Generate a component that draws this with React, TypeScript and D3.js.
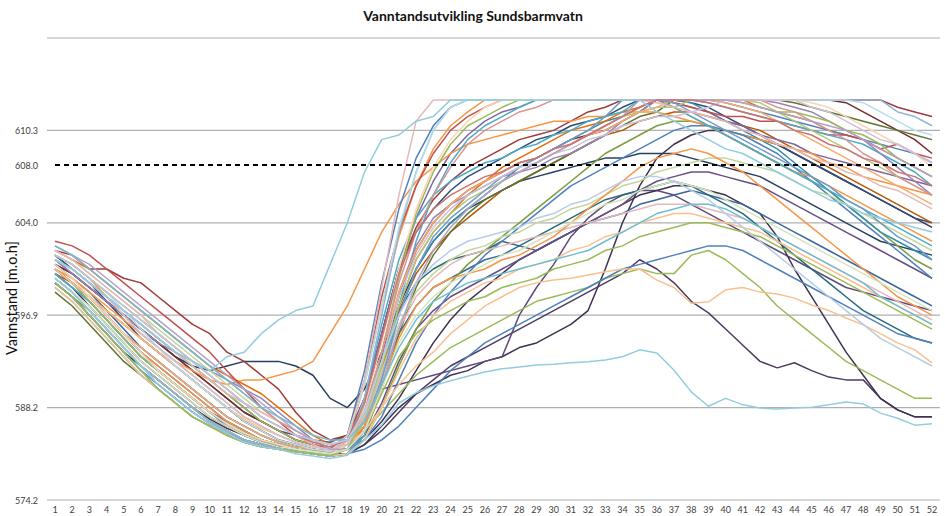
import React from 'react';
import * as d3 from 'd3';

// HRV cap (fill %) and axis/meta data
const C = 86.6;
const weeks = d3.range(1, 53);
const yTickValues = [0, 20, 40, 60, 80, 100];
const yTickLabels = ['574.2', '588.2', '596.9', '604.0', '610.3', ''];
const refLevelValue = 72.5;
const refLevelLabel = '608.0';
const title = 'Vanntandsutvikling  Sundsbarmvatn';
const yTitle = 'Vannstand [m.o.h]';

// Series (fill % of axis, weeks 1..52)
const h01 = [50,47,44,40,36,32,28,25,22,19,16,14,12.5,11.5,11,10.5,10, 14,28,47,63,74,81,85,C,C,C,C,C,C,C,C,C,C,C,C, C,C,C,86,85,84,83,82,81,80,79,78,77,76,75,73];
const h02 = [54,52,49,46,43,40,36,33,30,27,24,21,18,16,14,12,10.5, 13,26,46,66,82,C,C,C,C,C,C,C,C,C,C,C,C,C,86, 85,84,83,82,80,79,77,76,74,73,71,70,68,67,65,63];
const h03 = [48,45,41,37,33,29,26,23,20,17,15,13,12,11,10.5,10,9.5, 12,22,40,58,71,80,85,C,C,C,C,C,C,C,C,C,C,C,C, C,C,C,C,C,C,C,C,C,C,C,C,C,84,83,81];
const h04 = [56,55,53,50,47,44,41,38,35,32,28,24,20,17,14,12,11, 14,26,44,58,68,75,80,83,85,C,C,C,C,C,C,C,C,C,C, 86,85,84,83,83,82,82,81,80,79,79,78,76,77,75,74];
const h05 = [50,47,44,40,36,32,29,26,23,20,17,15,13,12,11,10.5,10, 13,25,42,57,68,76,81,84,C,C,C,C,C,C,C,C,C,C,C, 85,83,81,79,77,75,73,71,70,68,66,64,62,60,58,56];
const h06 = [47,44,40,36,32,28,24,21,18,16,14,12.5,11.5,11,10.5,10,9.5, 11,18,32,48,62,71,77,81,83,85,C,C,C,C,C,C,C,C,C, C,C,C,C,86,85,84,84,83,82,80,79,77,74,72,70];
const h07 = [53,51,48,45,41,37,33,29,26,23,20,17,15,13,12,11,10.5, 14,25,42,59,71,80,85,C,C,C,C,C,C,C,C,C,C,C,C, C,C,C,C,C,C,C,C,C,C,C,86,84,82,80,79];
const h08 = [49,46,43,39,35,31,28,25,22,19,17,15,13,12,11,10.5,10, 13,22,36,50,61,69,75,79,82,84,85,C,C,C,C,C,C,C,C, 86,85,84,82,81,79,78,77,75,74,73,72,71,70,69,68];
const h09 = [52,50,47,44,41,38,35,32,30,28,31,32,36,39,41,42,51, 60,71,78,79,82,83,C,C,C,C,C,C,C,C,C,C,C,C,84, 82,80,78,76,75,73,71,69,67,65,64,62,61,60,59,58];
const h10 = [51,48,44,40,36,32,28,25,22,19,16.5,14.5,13,12,11,10.5,10, 12,20,34,50,63,72,78,82,85,C,C,C,C,C,C,C,C,C,C, C,C,C,C,C,C,C,C,86,85,83,81,79,77,75,72];
const h11 = [55,53,50,47,44,41,38,35,32,29,26,23,20,17,15,13,12, 13,19,32,47,58,66,72,77,80,82,84,85,C,C,C,C,C,C,C, C,C,C,C,C,C,85,84,82,80,78,75,73,70,68,66];
const h12 = [46,43,39,35,31,27,24,21,18,16,14,12.5,11.5,11,10.5,10,9.5, 10,14,26,42,56,66,73,78,81,83,85,C,C,C,C,C,C,C,C, C,C,86,85,84,83,82,81,80,79,78,77,75,73,71,68];

const m01 = [53,50,47,43,39,35,32,29,26,23,20,17,15,13,12,11,10.5, 13,22,36,50,58,63,67,70,72,74,76,78,79,81,82,83,85,C,C, C,86,85,83,81,79,77,75,73,71,69,67,65,63,61,60];
const m02 = [50,47,44,40,36,33,30,27,24,21,18,16,14,12.5,11.5,11,10.5, 12,19,32,45,54,60,64,67,69,71,73,74,76,77,79,80,82,84,85, C,C,C,86,85,84,82,80,78,76,74,72,70,68,66,64];
const m03 = [54,53,50,50,48,47,44,41,38,36,32,30,27,24,19,15,13, 14,22,36,50,59,65,69,72,74,76,78,79,80,82,84,85,C,C,C, C,C,C,C,C,C,C,C,C,C,C,C,C,85,84,83];
const m04 = [48,45,41,37,33,29,26,23,20,17,15,13,12,11,10.5,10,9.5, 11,17,29,42,52,58,62,65,67,69,71,73,75,77,79,81,83,84,85, 85,C,C,C,C,86,84,82,80,78,76,74,72,70,68,66];
const m05 = [52,50,47,44,40,36,33,30,27,24,21,18,16,14,12.5,11.5,11, 12,18,30,44,53,59,63,66,68,70,72,73,75,76,78,79,81,82,83, 83,84,85,C,C,C,C,C,85,84,82,80,78,77,75,73];
const m06 = [49,46,43,39,35,31,28,25,22,19,16.5,14.5,13,12,11,10.5,10, 12,22,38,52,61,66,69,71,73,74,76,77,79,80,82,83,84,C,C, 85,83,81,79,77,75,73,71,69,67,65,63,61,59,57,55];
const m07 = [54,52,50,47,44,41,38,35,32,29,27,25,23,20,17,14,12, 11,16,28,42,52,58,62,66,69,72,74,76,78,80,81,82,84,85,C, C,C,C,C,C,85,84,83,82,80,79,78,76,74,72,70];
const m08 = [47,44,40,36,32,28,25,22,19,16.5,14.5,13,12,11,10.5,10,9.5, 10,15,26,40,50,57,61,64,67,70,72,74,76,78,80,83,C,C,C, 86,84,82,80,78,76,74,72,70,68,65,63,60,57,55,52];
const m09 = [51,49,46,43,40,37,34,31,28,25,22,19,17,15,13,12,11, 12,18,30,44,54,60,64,67,69,71,73,74,76,78,79,80,82,84,C, C,C,C,C,C,C,C,C,C,C,86,84,82,80,78,75];
const m10 = [55,53,51,48,45,42,39,36,33,30,27,24,21,18,15,13,11, 11,15,25,37,47,54,59,63,66,69,71,73,75,77,79,81,83,C,C, C,C,C,C,86,85,84,83,82,81,80,78,76,74,72,70];
const m11 = [50,47,43,39,35,31,28,25,22,19,17,15,13,12,11,10.5,10, 11,16,27,40,50,56,60,63,66,69,72,74,76,78,80,82,83,85,C, C,86,84,82,80,78,76,73,70,67,64,61,58,56,54,52];
const m12 = [53,51,48,45,42,39,36,33,30,27,24,21,18,16,14,12.5,11.5, 13,21,35,49,58,63,66,68,70,71,73,74,76,77,79,81,83,85,C, C,C,86,85,84,83,82,80,79,77,76,74,73,71,70,68];
const m13 = [45,42,38,34,30,27,24,21,18,16,14,12.5,11.5,11,10.5,10,9.5, 10,14,24,36,46,53,58,62,65,67,69,71,73,75,77,79,81,83,84, C,C,C,C,C,C,C,86,85,84,83,82,81,80,79,78];
const m14 = [52,49,46,43,40,37,34,32,30,28,26,24,22,19,16,13,11, 11,17,30,45,55,61,64,66,68,70,71,72,74,75,77,79,82,84,C, C,C,C,C,C,C,86,85,84,82,80,78,75,72,69,66];

const l01 = [51,48,45,41,37,33,30,27,24,21,18,16,14,12.5,11.5,11,10.5, 12,17,27,36,42,46,48,50,52,53,55,54,56,58,60,61,62,64,65, 66,67,66,65,64,62,60,58,56,54,52,50,48,46,44,42];
const l02 = [48,45,42,38,34,30,27,24,21,18,16,14,12.5,11.5,11,10.5,10, 11,15,24,34,40,44,47,49,51,53,54,56,58,60,62,64,65,67,68, 69,68,67,65,63,61,59,57,55,53,51,49,47,45,43,41];
const l03 = [54,52,49,46,43,40,37,34,31,28,25,22,19,17,15,13,12, 12,17,28,38,45,49,52,54,55,57,58,60,61,63,64,66,68,69,71, 72,73,74,74,73,72,71,69,67,66,64,62,60,58,56,54];
const l04 = [50,47,44,40,36,32,29,26,23,20,17,15,13,12,11,10.5,10, 11,14,21,30,37,41,44,46,48,50,52,54,56,58,60,62,64,67,69, 70,71,71,70,69,68,66,64,62,60,58,56,54,52,50,48];
const l05 = [46,43,39,35,31,27,24,21,18,16,14,12.5,11.5,11,10.5,10,9.5, 10,13,20,28,35,40,43,45,47,48,50,51,52,54,55,57,58,60,61, 62,62,61,60,59,58,56,54,52,50,48,46,44,42,40,38];
const l06 = [53,50,47,44,41,38,35,32,29,26,23,20,17,15,13,12,11, 13,20,31,41,47,50,52,53,54,56,55,57,59,61,63,65,66,67,68, 69,68,66,64,62,59,56,53,50,47,44,41,39,37,35,34];
const l07 = [49,47,44,41,38,35,32,29,26,23,20,17,15,13,12,11,10.5, 12,18,29,41,49,54,58,61,64,67,69,71,73,75,77,79,80,82,83, 84,84,83,82,81,80,78,76,74,72,70,68,66,64,62,60];
const l08 = [55,53,50,47,44,41,38,35,32,29,26,23,20,18,16,14,13, 13,17,25,33,39,43,45,47,48,49,50,51,52,53,54,56,58,60,62, 63,64,64,63,61,59,57,55,53,51,49,47,44,42,40,38];
const l09 = [47,44,41,37,33,29,26,23,20,17,15,13,12,11,10.5,10,9.5, 10,13,20,29,37,43,47,51,54,57,60,63,66,69,72,75,77,79,81, 82,82,81,79,77,75,73,71,69,67,64,61,58,55,52,50];
const l10 = [52,50,47,44,41,38,35,32,29,26,23,21,19,17,15,13,12, 12,17,27,37,44,48,51,53,54,55,56,57,58,59,60,61,62,63,64, 64,64,63,62,61,59,57,55,53,51,49,47,45,43,41,39];
const l11 = [50,47,44,40,36,33,30,27,24,21,18,16,14,12.5,11.5,11,10.5, 11,13,18,26,34,40,45,49,53,56,59,62,65,68,70,72,74,76,78, 80,81,81,80,79,77,75,72,69,66,63,60,57,54,51,48];
const l12 = [53,51,48,45,42,39,36,33,30,27,24,21,18,16,14,13,12, 13,19,30,40,47,51,54,56,57,58,59,61,62,64,65,67,69,70,70, 69,67,65,62,59,56,53,50,47,44,41,38,35,33,31,29];
const n01 = [50,47,43,39,35,31,28,25,22,19,16.5,14.5,13,12,11,10.5,10, 11,15,23,31,36,39,41,43,44,46,47,48,50,51,52,54,55,57,58, 59,60,60,59,58,57,55,53,51,49,47,45,43,41,39,37];
const n02 = [53,51,48,44,40,36,33,30,27,24,21,18,16,14,12.5,11.5,11, 12,16,25,35,42,46,48,49,50,52,53,55,57,60,63,66,69,72,74, 75,76,75,73,71,68,65,62,59,56,53,50,47,44,42,40];

const v01 = [48,45,41,37,33,29,25,22,19,16.5,14.5,12.5,11.5,11,10,9.5,9, 9.7,13,16.2,21,23.2,24.7,25.8,26.8,27.7,28.4,28.8,29.2,29.4,29.7,29.9,30.3,31,32.5,31.8, 28.1,23.4,20.3,22,20.6,19.9,19.7,19.9,20.1,20.6,21.2,20.8,18.8,17.7,16.2,16.5];
const v02 = [48,45,41,37,33,29,26,23,20,17,15,13,12,11,10.5,10,9.5, 10,12,15,19,23,26,29,31,33,35,37,39,41,43,45,47,49,52,50, 47,43,40.5,37,33.5,30,28.6,29.7,28,26.6,26,26,22,19.5,18,18];
const v03 = [47,44,40,36,32,29,26,23,20,17.5,15.5,14,12.5,11.5,11,10.5,10, 10,12,16,20,23,25,27,28,30,31,33,34,36,38,41,50,60,68,74, 77,79,80,80,79,78,77,75,73,71,69,67,65,63,61,59];
const v04 = [52,49,46,43,40,37,34,31,28,25,22,19,17,15,14,13,12.5, 14,19,24,25,26,27,28,29,30,31,40,46,51,57,61,64,66,67,67, 66,64,62,60,58,56,54,52,50,48,46,45,44,43,42,41];
const v05 = [50,47,44,41,38,35,32,29,26,23,20,17.5,15.5,14,12.5,11.5,11, 12,15,20,25,29,32,36,39,42,44,46,47,47.6,48,48.7,49.4,50,50,47.6, 46,42.6,42.9,45.5,46,45,44.6,43.7,42.2,41,39.4,37.9,36,34,32.5,29.7];
const v06 = [52,50,47,44,41,38,35,32,29,26,23,20,17,15,13,12,11.5, 13,15,19,23,27,30,33,35,37,39,41,43,44,45,46,48,49,50,49, 49,53,54,52,49,46,42,39,36,33,30,28,26,24,22,22];
const v07 = [49,46,42,38,34,30,27,24,21,18,16,14,12.5,11.5,11,10.5,10, 11,13,17,22,28,34,39,43,46,49,52,54,56,58,60,62,64,66,67, 68,68,67,66,64,62,57,50,44,38,32,27,22,19.5,18,18];
const v08 = [47,44,40,36,32,28,25,22,19,16.5,14.5,13,12,11,10.5,10,9.5, 10,11,13,16,20,24,28,31,34,36,38,40,42,44,46,48,50,51,52, 53,54,55,55,54,52,50,48,46,44,42,40,38,36,35,34];
const o01 = [50,48,45,42,39,36,33,30,28,26,25,26,26,27,28,30,36, 42,50,58,64,69,72,75,77,78,79,80,81,82,82,83,83,84,84,84, 83,82,81,80,79,78,77,76,75,73,72,70,69,68,67,66];
const d01 = [51,49,46,43,40,37,34,31,29,28,29,30,30,30,29,27,22, 20,24,32,42,50,56,60,63,65,67,69,70,71,72,73,74,74,75,75, 75,74,73,72,71,70,68,66,64,62,60,58,56,55,54,53];

const seriesList = [
  v02, v03, v04, v07, d01, m01, l01, l04, l06, m09, l07, m13, l09, m03, m11, h08,
  v06, v08, o01, m07, l11, h05, h01, h04, m06, h12, m14, l03, l10, m04, m02, m08,
  n01, n02, v05, l05, h02, h03, h06, h07, h10, h11, m05, m10, m12, l02, l08, l12, h09, v01,
];
const seriesColors = [
  '#4D3B62', '#3F3151', '#604A7B', '#3F3151', '#254061', '#2C4D75', '#3A679C', '#664F83', '#276A7C', '#772C2A', '#B65708', '#5F7530', '#7E9D40', '#9F3B38', '#358EA6', '#8064A2',
  '#9BBB59', '#4F81BD', '#F79646', '#E46C0A', '#4F81BD', '#F79646', '#4F81BD', '#C0504D', '#4BACC6', '#4BACC6', '#9983B5', '#C3D69B', '#E6B9B8', '#AFC97A', '#F9AB6B', '#729ACA',
  '#9BBB59', '#F79646', '#FAC090', '#FAC090', '#E6B9B8', '#95B3D7', '#9BBB59', '#B7DEE8', '#FCD5B5', '#D99694', '#CCC1DA', '#B3A2C7', '#CD7371', '#D7E4BD', '#6FBDD1', '#B9CDE5', '#93CDDD', '#93CDDD',
];

const FONT = "Lato, 'Open Sans', 'DejaVu Sans', sans-serif";

export default function App() {
  const W = 945;
  const H = 516;
  const x = d3.scaleLinear().domain([1, 52]).range([55, 932]);
  const y = d3.scaleLinear().domain([0, 100]).range([500, 38]);
  const line = d3
    .line<number>()
    .x((_, i) => x(weeks[i]))
    .y((d) => y(d));

  return (
    <svg
      width={W}
      height={H}
      style={{ position: 'absolute', left: 0, top: 0, background: '#fff' }}
    >
      <rect width={W} height={H} fill="#fff" />
      <text x={473} y={21} textAnchor="middle" fontFamily={FONT} fontWeight="bold" fontSize={14} fill="#111">
        {title}
      </text>
      {yTickValues.map((v, i) => (
        <g key={'g' + i}>
          <line x1={47} x2={940} y1={y(v)} y2={y(v)} stroke="#b0b0b0" strokeWidth={1.2} />
          <text x={38} y={y(v) + 3.5} textAnchor="end" fontFamily={FONT} fontSize={9} fill="#404040">
            {yTickLabels[i]}
          </text>
        </g>
      ))}
      <text x={38} y={y(refLevelValue) + 3.5} textAnchor="end" fontFamily={FONT} fontSize={9} fill="#404040">
        {refLevelLabel}
      </text>
      <text
        transform={`translate(17,298) rotate(-90)`}
        textAnchor="middle"
        fontFamily={FONT}
        fontSize={14.5}
        fill="#111"
      >
        {yTitle}
      </text>
      {weeks.map((w) => (
        <text key={'x' + w} x={x(w)} y={513} textAnchor="middle" fontFamily={FONT} fontSize={9} fill="#404040">
          {w}
        </text>
      ))}
      <g fill="none" strokeWidth={1.5} strokeLinejoin="round">
        {seriesList.map((s, i) => (
          <path key={'s' + i} d={line(s) || ''} stroke={seriesColors[i % seriesColors.length]} />
        ))}
      </g>
      <line
        x1={x(1)}
        x2={x(52)}
        y1={y(refLevelValue)}
        y2={y(refLevelValue)}
        stroke="#000"
        strokeWidth={2}
        strokeDasharray="5,4"
      />
    </svg>
  );
}
